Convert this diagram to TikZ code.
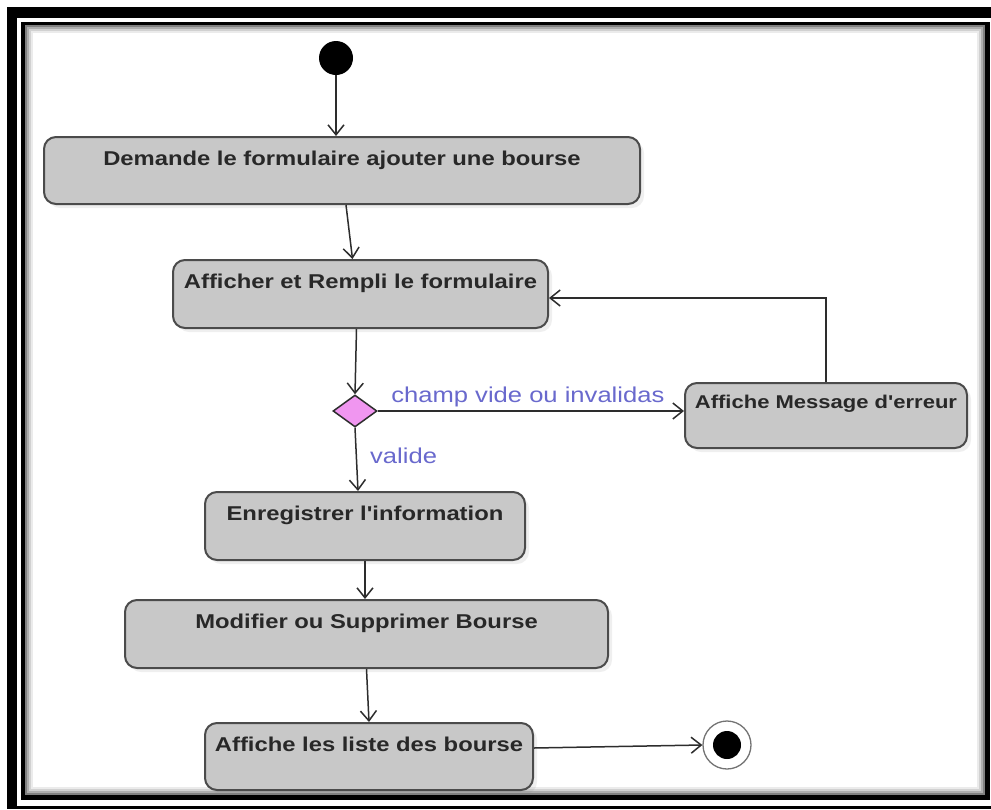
\documentclass[tikz,border=0pt]{standalone}
\usepackage{fontspec}
\usetikzlibrary{shapes.geometric,arrows.meta,shadows,calc}
\newfontfamily\bxfont{Liberation Sans}[FakeStretch=1.19]
\definecolor{boxfill}{RGB}{200,200,200}
\definecolor{boxline}{RGB}{75,75,75}
\definecolor{conn}{RGB}{45,45,45}
\definecolor{lblcol}{RGB}{105,105,205}
\definecolor{diacol}{RGB}{240,150,240}
\definecolor{txtcol}{RGB}{40,40,40}
\begin{document}
\begin{tikzpicture}[x=1pt,y=-1pt,
  actbox/.style={draw=boxline, line width=2pt, fill=boxfill, rounded corners=12pt, inner sep=0pt,
    drop shadow={shadow xshift=4pt, shadow yshift=-4pt, opacity=0.12}},
  acttext/.style={label={[anchor=base, yshift=-29pt, inner sep=0pt, text=txtcol,
    font=\bxfont\bfseries\fontsize{20}{24}\selectfont]north:#1}},
  errtext/.style={label={[anchor=base, yshift=-26pt, inner sep=0pt, text=txtcol,
    font=\bxfont\bfseries\fontsize{18.5}{22}\selectfont]north:#1}},
  flow/.style={draw=conn, line width=1.5pt, -{Straight Barb[length=10pt,width=16pt,line width=1.5pt]}},
  lbl/.style={text=lblcol, inner sep=0pt, font=\bxfont\fontsize{21.5}{26}\selectfont},
  startdot/.style={circle, fill=black, minimum size=34pt, inner sep=0pt},
  endring/.style={circle, draw=black!55, line width=1.3pt, fill=white, minimum size=48pt, inner sep=0pt},
  enddot/.style={circle, fill=black, minimum size=28pt, inner sep=0pt},
  decision/.style={diamond, draw=conn, line width=1.5pt, fill=diacol, minimum width=44pt, minimum height=32pt, inner sep=0pt}
]
\useasboundingbox (0,0) rectangle (991,809);
% frame
\fill[black] (7,7) rectangle (991,809);
\fill[white] (17,18) rectangle (991,806);
\fill[black] (21,22) rectangle (990,800);
\fill[white] (25,25) rectangle (985,795);
\foreach \d/\c in {0/50,2/32,4/18,6/8}
  \draw[black!\c, line width=2pt] ({26+\d},{26+\d}) rectangle ({984-\d},{794-\d});

% nodes
\node[startdot] (start) at (336,58) {};
\node[actbox, minimum width=596pt, minimum height=67pt,
  acttext={Demande le formulaire ajouter une bourse}] (b1) at (342,170.5) {};
\node[actbox, minimum width=375pt, minimum height=68pt,
  acttext={Afficher et Rempli le formulaire}] (b2) at (360.5,294) {};
\node[decision] (d) at (355,411) {};
\node[actbox, minimum width=282pt, minimum height=65pt,
  errtext={Affiche Message d'erreur}] (err) at (826,415.5) {};
\node[actbox, minimum width=320pt, minimum height=68pt,
  acttext={Enregistrer l'information}] (b3) at (365,526) {};
\node[actbox, minimum width=483pt, minimum height=68pt,
  acttext={Modifier ou Supprimer Bourse}] (b4) at (366.5,634) {};
\node[actbox, minimum width=328pt, minimum height=67pt,
  acttext={Affiche les liste des bourse}] (b5) at (369,756.5) {};
\node[endring] (endo) at (727,745) {};
\node[enddot] (endi) at (endo.center) {};

% connectors
\draw[flow] (start) -- (start |- b1.north);
\draw[flow] ([xshift=4pt]b1.south) -- ([xshift=-8pt]b2.north);
\draw[flow] ([xshift=-4pt]b2.south) -- (d.north);
\draw[flow] (d.east) -- (d.east -| err.west)
  node[lbl, midway, anchor=base, yshift=9pt, xshift=-3pt] (l1) {champ vide ou invalidas};
\draw[flow] (d.south) -- ([xshift=-7pt]b3.north);
\node[lbl, anchor=base west] (l2) at ($(d.south)+(15,36)$) {valide};
\draw[flow] (err.north) |- ([yshift=-4pt]b2.east);
\draw[flow] (b3.south) -- (b3.south |- b4.north);
\draw[flow] (b4.south) -- (b5.north);
\draw[flow] ([yshift=8.5pt]b5.east) -- (endo.west);
\end{tikzpicture}
\end{document}
